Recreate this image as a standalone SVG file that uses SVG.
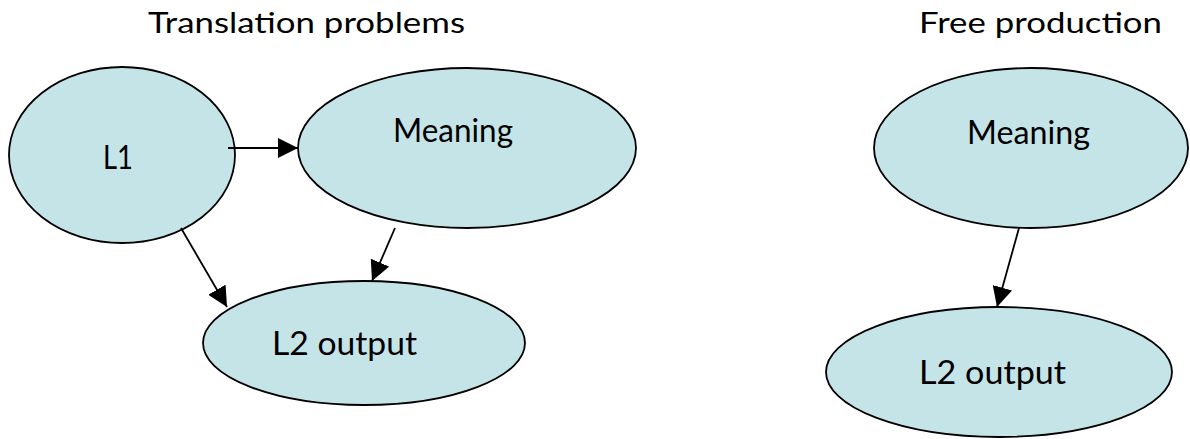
<svg xmlns="http://www.w3.org/2000/svg" width="1190" height="439" viewBox="0 0 1190 439">
  <style>
    .node ellipse { fill: #c5e4e8; stroke: #000; stroke-width: 1.8; }
    .label { font-family: Lato, "Open Sans", "Liberation Sans", sans-serif; font-size: 32px; fill: #000; }
    .title { font-family: Lato, "Open Sans", "Liberation Sans", sans-serif; font-size: 28px; fill: #000; }
    .edge { stroke: #000; stroke-width: 1.8; fill: none; marker-end: url(#head); }
  </style>
  <defs>
    <marker id="head" markerUnits="userSpaceOnUse" markerWidth="20" markerHeight="20" refX="20" refY="10" orient="auto">
      <path d="M0,0 L20,10 L0,20 z" fill="#000"/>
    </marker>
  </defs>

  <rect width="1190" height="439" fill="#fff"/>

  <!-- section titles -->
  <text class="title" x="148" y="33" textLength="317" lengthAdjust="spacingAndGlyphs">Translation problems</text>
  <text class="title" x="919" y="33" textLength="243" lengthAdjust="spacingAndGlyphs">Free production</text>

  <!-- translation: L1, meaning, output -->
  <g id="tp-l1" class="node">
    <ellipse cx="122" cy="155" rx="113" ry="88"/>
    <text class="label" x="103" y="169" textLength="30" lengthAdjust="spacingAndGlyphs">L1</text>
  </g>
  <g id="tp-meaning" class="node">
    <ellipse cx="467" cy="148" rx="169" ry="80"/>
    <text class="label" x="393" y="142" textLength="120" lengthAdjust="spacingAndGlyphs">Meaning</text>
  </g>
  <g id="tp-output" class="node">
    <ellipse cx="364" cy="343" rx="161" ry="62"/>
    <text class="label" x="272" y="355" textLength="145" lengthAdjust="spacingAndGlyphs">L2 output</text>
  </g>

  <!-- free production: meaning, output -->
  <g id="fp-meaning" class="node">
    <ellipse cx="1031" cy="148" rx="157" ry="80"/>
    <text class="label" x="967" y="144" textLength="123" lengthAdjust="spacingAndGlyphs">Meaning</text>
  </g>
  <g id="fp-output" class="node">
    <ellipse cx="999" cy="372" rx="173" ry="65"/>
    <text class="label" x="919" y="384" textLength="147" lengthAdjust="spacingAndGlyphs">L2 output</text>
  </g>

  <g id="connectors">
    <line class="edge" x1="228" y1="148" x2="298" y2="148"/>
    <line class="edge" x1="181" y1="228" x2="227" y2="307"/>
    <line class="edge" x1="395" y1="228" x2="372" y2="281"/>
    <line class="edge" x1="1019" y1="228" x2="997" y2="307"/>
  </g>
</svg>
